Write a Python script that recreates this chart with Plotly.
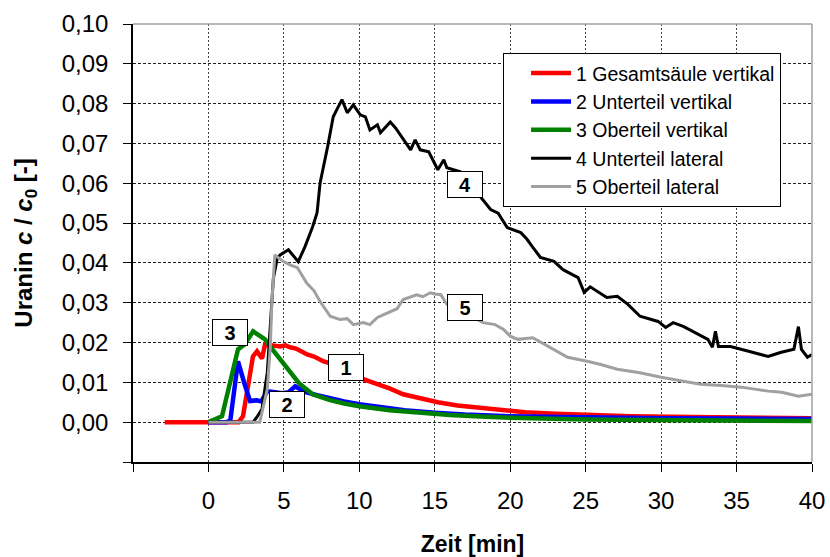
import plotly.graph_objects as go

# ---- data ----
t_red = [-2.9, 0, 2.0, 2.29, 2.62, 2.95, 3.22, 3.55, 3.75, 4.2, 4.75, 5.1, 5.41, 5.8, 6.54, 7.0, 7.6, 8.5, 9.3, 10.26,
         11.0, 12.0, 12.9, 14.0, 15.2, 16.5, 18.0, 19.4, 21.0, 23.0, 25.0, 28.0, 32.0, 36.0, 40.0]
c_red = [0, 0, 0, 0.0015, 0.0083, 0.0165, 0.0178, 0.016, 0.0195, 0.0192, 0.019, 0.0193, 0.0188, 0.0185, 0.017, 0.0165,
         0.0153, 0.0143, 0.0128, 0.0108, 0.0098, 0.0085, 0.007, 0.006, 0.005, 0.0042, 0.0036, 0.003, 0.0025, 0.0021,
         0.0018, 0.0015, 0.0013, 0.0011, 0.001]

t_blue = [0, 1.2, 1.45, 1.96, 2.4, 2.76, 3.2, 3.5, 3.9, 4.4, 4.9, 5.3, 5.75, 6.1, 6.5, 7.2, 8.0, 9.0, 10.0, 11.5,
          13.0, 15.0, 17.0, 20.0, 25.0, 30.0, 35.0, 40.0]
c_blue = [0, 0, 0.0005, 0.0153, 0.0095, 0.0053, 0.0055, 0.0052, 0.0078, 0.0076, 0.0073, 0.0075, 0.009, 0.0082, 0.0075,
          0.0068, 0.006, 0.0052, 0.0045, 0.0037, 0.003, 0.0024, 0.0019, 0.0015, 0.0012, 0.001, 0.0009, 0.0008]

t_green = [0, 0.9, 1.96, 2.4, 2.96, 3.75, 4.2, 5.2, 6.0, 6.9, 8, 9, 10, 12, 14, 16, 18, 20, 25, 30, 35, 40]
c_green = [0, 0.0015, 0.0183, 0.0195, 0.0228, 0.0208, 0.0185, 0.0135, 0.0098, 0.007, 0.0056, 0.0047, 0.004, 0.003,
           0.0023, 0.0018, 0.0014, 0.0011, 0.0007, 0.0005, 0.0004, 0.0003]

t_black = [0, 2.96, 3.22, 3.55, 3.9, 4.1, 4.3, 4.55, 4.75, 5.3, 5.95, 6.4, 6.9, 7.2, 7.4, 7.9, 8.27, 8.6, 8.85, 9.2,
           9.6, 10.06, 10.4, 10.7, 11.2, 11.4, 12.05, 12.4, 12.85, 13.4, 13.7, 14.04, 14.6, 15.2, 15.6, 15.8, 16.7,
           17.3, 18.0, 18.7, 19.2, 19.8, 20.7, 21.1, 21.5, 22.0, 22.9, 23.5, 24.5, 24.9, 25.3, 26.4, 27.1, 27.8, 28.6,
           29.8, 30.3, 30.8, 31.5, 32.2, 33.1, 33.4, 33.6, 33.8, 34.6, 35.8, 37.1, 37.9, 38.8, 39.1, 39.3, 39.7, 40.0]
c_black = [0, 0, 0.0013, 0.0033, 0.0125, 0.023, 0.036, 0.041, 0.042, 0.0433, 0.0403, 0.0441, 0.049, 0.0526, 0.0601,
           0.0692, 0.0767, 0.0792, 0.081, 0.0777, 0.0797, 0.0772, 0.0767, 0.0734, 0.0747, 0.0727, 0.0754, 0.0739,
           0.0714, 0.0684, 0.0709, 0.0684, 0.0679, 0.0634, 0.0659, 0.0639, 0.0629, 0.06, 0.0566, 0.0534, 0.0525,
           0.0489, 0.0476, 0.046, 0.0439, 0.0414, 0.0404, 0.0383, 0.0363, 0.0326, 0.034, 0.0313, 0.0316, 0.0296,
           0.0266, 0.0253, 0.0238, 0.025, 0.024, 0.0226, 0.0208, 0.0188, 0.0228, 0.019, 0.019, 0.0178, 0.0165,
           0.0175, 0.0183, 0.024, 0.0183, 0.0163, 0.017]

t_gray = [0, 3.4, 3.9, 4.1, 4.2, 4.4, 4.95, 5.4, 5.9, 6.5, 7.0, 7.4, 8.07, 8.7, 9.2, 9.6, 10.26, 10.7, 11.2, 12.05,
          12.5, 12.9, 13.8, 14.2, 14.7, 15.0, 15.4, 15.8, 16.5, 17.4, 18.2, 19.0, 19.56, 20.0, 20.5, 21.5, 22.5, 23.8,
          25.1, 26.0, 27.1, 28.5, 30.0, 31.5, 32.6, 34.0, 35.3, 36.2, 37.1, 38.0, 39.1, 40.0]
c_gray = [0, 0, 0.0083, 0.019, 0.03, 0.042, 0.0404, 0.0395, 0.0388, 0.035, 0.033, 0.0303, 0.0266, 0.0258, 0.026,
          0.0245, 0.025, 0.0245, 0.0263, 0.0278, 0.0285, 0.0308, 0.032, 0.0315, 0.0325, 0.0322, 0.032, 0.0296, 0.0285,
          0.0266, 0.025, 0.0245, 0.0233, 0.0216, 0.0208, 0.0212, 0.019, 0.0163, 0.0153, 0.0145, 0.0133, 0.0125,
          0.0113, 0.0103, 0.0095, 0.0092, 0.0088, 0.0083, 0.0078, 0.0075, 0.0065, 0.007]

series_names = ["1 Gesamtsäule vertikal", "2 Unterteil vertikal", "3 Oberteil vertikal",
                "4 Unterteil lateral", "5 Oberteil lateral"]

x_tickvals = [0, 5, 10, 15, 20, 25, 30, 35, 40]
x_ticktext = ["0", "5", "10", "15", "20", "25", "30", "35", "40"]
y_tickvals = [0.0, 0.01, 0.02, 0.03, 0.04, 0.05, 0.06, 0.07, 0.08, 0.09, 0.10]
y_ticktext = ["0,00", "0,01", "0,02", "0,03", "0,04", "0,05", "0,06", "0,07", "0,08", "0,09", "0,10"]
x_extra_tick = [-5]
y_extra_tick = [-0.01]

# curve labels: (text, x, y)
label_text = ["1", "2", "3", "4", "5"]
label_x = [9.13, 5.21, 1.43, 16.97, 16.97]
label_y = [0.0138, 0.0045, 0.0226, 0.0597, 0.0288]

FONT = "Liberation Sans, Arial, sans-serif"

fig = go.Figure()
styles = [("#FF0000", 4.5), ("#0000FF", 4.5), ("#008000", 4.5), ("#000000", 3), ("#A0A0A0", 3)]
all_t = [t_red, t_blue, t_green, t_black, t_gray]
all_c = [c_red, c_blue, c_green, c_black, c_gray]
for i, (tt, cc) in enumerate(zip(all_t, all_c)):
    col, w = styles[i]
    fig.add_trace(go.Scatter(x=tt, y=cc, mode="lines", name=series_names[i],
                             legendgroup=f"g{i}",
                             line=dict(color=col, width=w)))

for txt, lx, ly in zip(label_text, label_x, label_y):
    fig.add_annotation(x=lx, y=ly, xref="x", yref="y", text=f"<b>{txt}</b>", showarrow=False,
                       font=dict(family=FONT, size=20, color="black"),
                       bgcolor="white", bordercolor="black", borderwidth=1,
                       width=32, height=23, borderpad=1)

# top/right frame in gray
fig.add_shape(type="line", xref="paper", yref="paper", x0=0, x1=1, y0=1, y1=1,
              line=dict(color="#A0A0A0", width=1.5))
fig.add_shape(type="line", xref="paper", yref="paper", x0=1, x1=1, y0=0, y1=1,
              line=dict(color="#A0A0A0", width=1.5))

fig.update_layout(
    width=830, height=557,
    margin=dict(l=133, r=18, t=24, b=95, autoexpand=False),
    paper_bgcolor="white", plot_bgcolor="white",
    font=dict(family=FONT, color="black"),
    showlegend=True,
    legend=dict(x=0.545, y=0.934, xanchor="left", yanchor="top",
                bgcolor="white", bordercolor="black", borderwidth=1,
                font=dict(family=FONT, size=19.5, color="black"),
                tracegroupgap=0, indentation=22, itemwidth=40),
)
fig.update_xaxes(range=[-5, 40], tickvals=x_tickvals, ticktext=x_ticktext,
                 ticks="outside", ticklen=8, tickcolor="black", tickwidth=1,
                 ticklabelstandoff=8, automargin=False,
                 minor=dict(tickvals=x_extra_tick, ticks="outside", ticklen=8, tickcolor="black",
                            showgrid=False),
                 tickfont=dict(family=FONT, size=24, color="black"),
                 showline=True, linecolor="black", linewidth=1.5, mirror=False,
                 showgrid=True, gridcolor="#444444", gridwidth=1, griddash="2px,2px",
                 zeroline=False,
                 title=dict(text="<b>Zeit [min]</b>", standoff=26,
                            font=dict(family=FONT, size=23, color="black")))
fig.update_yaxes(range=[-0.01, 0.10], tickvals=y_tickvals, ticktext=y_ticktext,
                 ticks="outside", ticklen=8, tickcolor="black", tickwidth=1,
                 ticklabelstandoff=10, automargin=False,
                 minor=dict(tickvals=y_extra_tick, ticks="outside", ticklen=8, tickcolor="black",
                            showgrid=False),
                 tickfont=dict(family=FONT, size=24, color="black"),
                 showline=True, linecolor="black", linewidth=1.5, mirror=False,
                 showgrid=True, gridcolor="#222222", gridwidth=1, griddash="3px,2px",
                 zeroline=False,
                 title=dict(text="<b>Uranin <i>c</i> / <i>c</i><sub>0</sub> [-]</b>", standoff=22,
                            font=dict(family=FONT, size=24, color="black")))

fig.write_html("out.html")
